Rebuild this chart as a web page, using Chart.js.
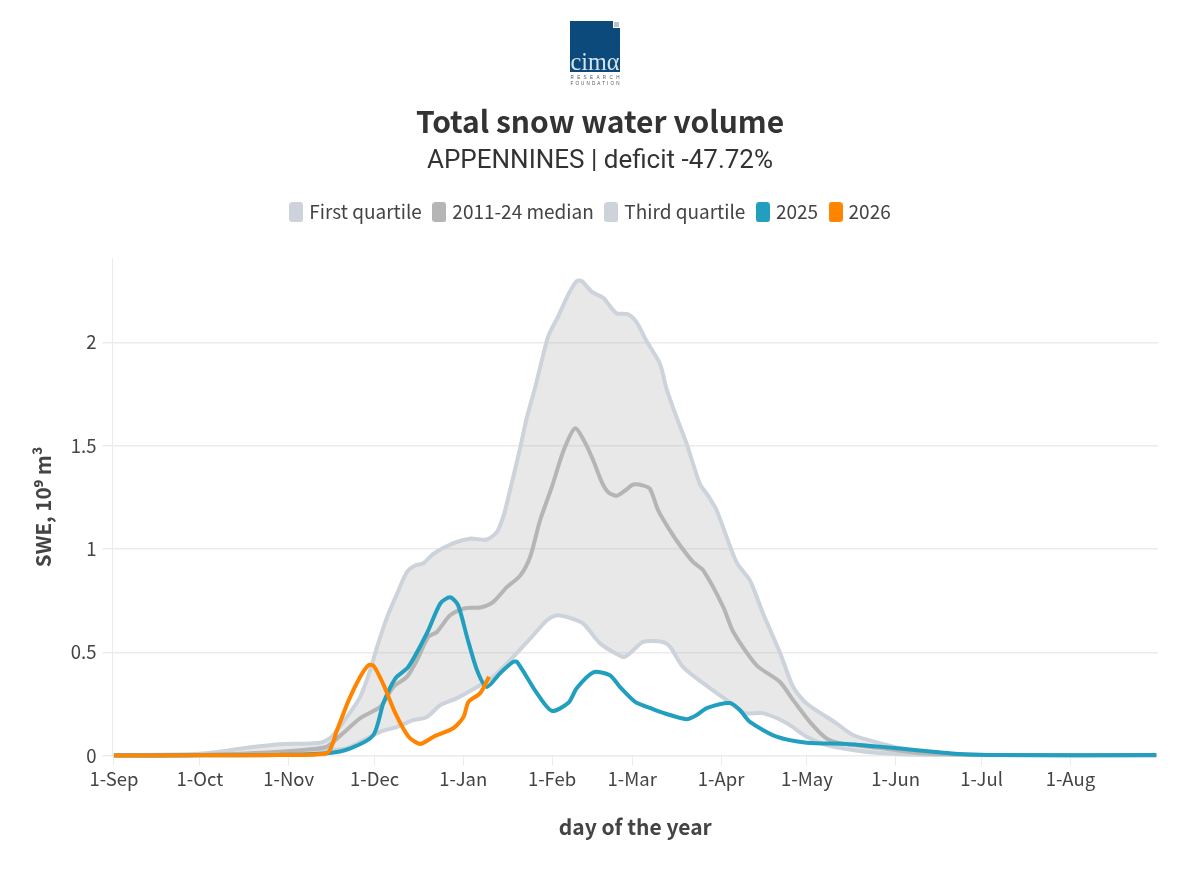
<!DOCTYPE html>
<html>
<head>
<meta charset="utf-8">
<title>Total snow water volume</title>
<script src="https://cdn.jsdelivr.net/npm/chart.js@4"></script>
<style>
  html, body { margin: 0; padding: 0; background: #fff; }
  #wrap { position: relative; width: 1200px; height: 869px; overflow: hidden; }
  #logo { position: absolute; left: 565px; top: 16px; }
  canvas { display: block; }
</style>
</head>
<body>
<div id="wrap">
  <canvas id="sweChart" width="1200" height="869"></canvas>
  <svg id="logo" width="60" height="74" viewBox="0 0 60 74">
    <rect x="5" y="5" width="50" height="51" fill="#0b4a7a"/>
    <rect x="48" y="5" width="7" height="7" fill="#fff"/>
    <rect x="49" y="6" width="5" height="5" fill="#bcc3c9"/>
    <text x="5.5" y="54" textLength="49" lengthAdjust="spacingAndGlyphs" font-family="Liberation Serif" font-size="26" fill="#d5e3ec">cimα</text>
    <text x="5.5" y="63" textLength="49" font-family="Liberation Sans" font-size="4.6" fill="#555">RESEARCH</text>
    <text x="5.5" y="69" textLength="49" font-family="Liberation Sans" font-size="4.6" fill="#555">FOUNDATION</text>
  </svg>
</div>
<script>
const tickDays = [0, 30, 61, 91, 122, 153, 181, 212, 242, 273, 303, 334];
const tickLabels = ['1-Sep', '1-Oct', '1-Nov', '1-Dec', '1-Jan', '1-Feb', '1-Mar', '1-Apr', '1-May', '1-Jun', '1-Jul', '1-Aug'];

// day index counted from 1-Sep, values in 10^9 m3
const q1Days = [0, 30, 58, 75.6, 81.4, 89.5, 93, 98.9, 104.5, 109.3, 114, 119.8, 126.8, 132.4, 139.4, 146.4, 151.2, 154.7, 158.1, 163.8, 169.8, 177.8, 180.2, 184.8, 191.7, 194.2, 198.7, 205.7, 214, 220.3, 226.6, 234.9, 241.9, 248.8, 258, 267.4, 281, 309, 364];
const q1Values = [0.001, 0.002, 0.007, 0.027, 0.036, 0.091, 0.115, 0.139, 0.171, 0.187, 0.244, 0.278, 0.332, 0.381, 0.477, 0.582, 0.655, 0.679, 0.671, 0.64, 0.543, 0.477, 0.495, 0.55, 0.55, 0.526, 0.429, 0.35, 0.268, 0.205, 0.205, 0.157, 0.091, 0.051, 0.027, 0.012, 0.004, 0.001, 0.001];

const medianDays = [0, 30, 58, 69.7, 74.4, 80.1, 86, 93, 97.6, 102.3, 105.8, 109.8, 112.8, 117.4, 122.7, 127.9, 132.4, 137.2, 141.9, 145.3, 148.8, 152.9, 157, 161, 164.5, 167.4, 170.4, 172.7, 175.6, 178.5, 181.4, 184.9, 187.2, 190.1, 194.2, 197.7, 202.3, 205.8, 212.8, 216.3, 224.4, 232.5, 237.2, 243, 248.8, 253.5, 267.4, 281, 309, 364];
const medianValues = [0.001, 0.002, 0.018, 0.031, 0.043, 0.109, 0.181, 0.236, 0.332, 0.381, 0.461, 0.574, 0.598, 0.679, 0.713, 0.717, 0.743, 0.815, 0.872, 0.96, 1.138, 1.299, 1.476, 1.584, 1.516, 1.428, 1.323, 1.274, 1.258, 1.283, 1.312, 1.307, 1.291, 1.186, 1.089, 1.017, 0.936, 0.896, 0.719, 0.598, 0.437, 0.357, 0.268, 0.163, 0.083, 0.06, 0.036, 0.012, 0.002, 0.001];

const q3Days = [0, 30, 48, 58, 72, 76, 81.4, 86, 89.5, 91.9, 95.4, 98.9, 102.3, 105.2, 108.1, 111.6, 118.6, 124.4, 130.2, 133.7, 135.5, 136.6, 141.9, 144.2, 147.1, 149.4, 151.7, 155.2, 158.7, 161.6, 163.4, 166.9, 170.9, 173.2, 175.6, 179.6, 182.6, 186, 190.7, 193, 196.5, 200, 204.6, 207.5, 210.5, 217.4, 222.1, 226.7, 232.5, 237.2, 241.9, 252.3, 258.1, 267.4, 278, 292, 309, 364];
const q3Values = [0.002, 0.008, 0.04, 0.055, 0.062, 0.09, 0.187, 0.284, 0.413, 0.526, 0.67, 0.784, 0.888, 0.92, 0.931, 0.977, 1.028, 1.05, 1.046, 1.081, 1.138, 1.186, 1.492, 1.637, 1.782, 1.911, 2.031, 2.128, 2.233, 2.297, 2.297, 2.245, 2.216, 2.176, 2.141, 2.136, 2.096, 2.007, 1.896, 1.774, 1.637, 1.51, 1.316, 1.258, 1.186, 0.936, 0.848, 0.687, 0.501, 0.332, 0.252, 0.156, 0.099, 0.06, 0.027, 0.01, 0.002, 0.001];

const days2025 = [0, 30, 58, 74.4, 82.6, 90.6, 94.1, 98.3, 102.8, 109.3, 114, 117.4, 120.2, 123.3, 126.8, 130.2, 134.9, 139.4, 140.8, 147.7, 152.9, 158.7, 161.6, 167.4, 173.2, 176.7, 182, 188.2, 194.2, 200, 203.5, 207, 215.1, 218.6, 222.1, 231.4, 241.9, 255.8, 267.4, 281.4, 295.3, 309.3, 364];
const values2025 = [0, 0.001, 0.003, 0.011, 0.035, 0.099, 0.254, 0.374, 0.429, 0.592, 0.737, 0.766, 0.727, 0.574, 0.413, 0.332, 0.399, 0.453, 0.453, 0.302, 0.216, 0.255, 0.326, 0.403, 0.389, 0.332, 0.26, 0.225, 0.196, 0.176, 0.196, 0.229, 0.254, 0.22, 0.163, 0.091, 0.062, 0.056, 0.043, 0.024, 0.007, 0.002, 0.002];

const days2026 = [0, 30, 58, 74.4, 77.9, 82, 86, 88.9, 90.7, 94.2, 98.3, 102.9, 107, 111.6, 118.6, 122.1, 123.8, 127.9, 131];
const values2026 = [0, 0.001, 0.002, 0.011, 0.123, 0.268, 0.381, 0.437, 0.434, 0.341, 0.204, 0.091, 0.056, 0.091, 0.133, 0.187, 0.26, 0.302, 0.381];

const gridColor = '#ebebeb';
const textColor = '#444';
const fontFamily = '"Noto Sans CJK SC", "Noto Sans", sans-serif';

function toPoints(days, values) {
  return days.map((d, i) => ({ x: d, y: values[i] }));
}

// tall rounded legend swatch
function swatch(color) {
  const c = document.createElement('canvas');
  c.width = 14;
  c.height = 20;
  const g = c.getContext('2d');
  g.fillStyle = color;
  g.beginPath();
  g.roundRect(0, 0, 14, 20, 3);
  g.fill();
  return c;
}

function lineSet(label, days, values, color, order) {
  return {
    label: label,
    data: toPoints(days, values),
    borderColor: color,
    backgroundColor: color,
    borderWidth: 4,
    pointRadius: 0,
    pointStyle: swatch(color),
    tension: 0.25,
    clip: false,
    order: order
  };
}

const q1Set = lineSet('First quartile', q1Days, q1Values, '#ccd3da', 5);
q1Set.fill = { target: 2, above: 'rgba(180,180,180,0.3)', below: 'rgba(180,180,180,0.3)' };

// legend is a little left of the page centre in the original
const legendShift = {
  id: 'legendShift',
  afterLayout(chart) {
    chart.legend.left -= 8.25;
    chart.legend.right -= 8.25;
  }
};

new Chart(document.getElementById('sweChart'), {
  type: 'line',
  data: {
    datasets: [
      q1Set,
      lineSet('2011-24 median', medianDays, medianValues, '#b5b5b5', 3),
      lineSet('Third quartile', q3Days, q3Values, '#ccd3da', 4),
      lineSet('2025', days2025, values2025, '#229fbe', 2),
      lineSet('2026', days2026, values2026, '#ff8500', 1)
    ]
  },
  plugins: [legendShift],
  options: {
    responsive: false,
    animation: false,
    layout: { padding: { top: 104, bottom: 25, left: 0, right: 0 } },
    plugins: {
      filler: { drawTime: 'beforeDatasetsDraw' },
      tooltip: { enabled: false },
      title: {
        display: true,
        text: 'Total snow water volume',
        color: '#333',
        font: { family: fontFamily, size: 30, weight: 'bold' },
        padding: { top: 0, bottom: 0 }
      },
      subtitle: {
        display: true,
        text: 'APPENNINES | deficit -47.72%',
        color: '#333',
        font: { family: '"Roboto", sans-serif', size: 26 },
        padding: { top: 5.5, bottom: 12 }
      },
      legend: {
        display: true,
        labels: {
          usePointStyle: true,
          pointStyleWidth: 7,
          padding: 14,
          color: textColor,
          font: { family: fontFamily, size: 19 },
          sort: (a, b) => a.datasetIndex - b.datasetIndex
        }
      }
    },
    scales: {
      x: {
        type: 'linear',
        min: -0.5,
        max: 364.6,
        border: { display: false },
        grid: { drawOnChartArea: false, color: gridColor, tickLength: 10 },
        afterBuildTicks(scale) {
          scale.ticks = tickDays.map(d => ({ value: d }));
        },
        ticks: {
          color: textColor,
          padding: 2,
          maxRotation: 0,
          autoSkip: false,
          font: { family: fontFamily, size: 18.5 },
          callback: value => tickLabels[tickDays.indexOf(value)]
        },
        title: {
          display: true,
          text: 'day of the year',
          color: textColor,
          font: { family: fontFamily, size: 21, weight: 'bold' }
        },
        afterFit(scale) { scale.height = 88.5; }
      },
      y: {
        min: 0,
        max: 2.408,
        border: { display: true, color: gridColor },
        grid: { color: gridColor, lineWidth: 1.4, tickLength: 10 },
        ticks: {
          stepSize: 0.5,
          includeBounds: false,
          color: textColor,
          padding: 6,
          font: { family: fontFamily, size: 18.5 },
          callback: value => String(value)
        },
        title: {
          display: true,
          text: 'SWE, 10⁹ m³',
          color: textColor,
          font: { family: fontFamily, size: 20.5, weight: 'bold' },
          padding: { top: 31, bottom: 0 }
        },
        afterFit(scale) { scale.width = 112.5; }
      },
      // empty axes, they only keep the margins right of and above the plot
      rightMargin: {
        position: 'right',
        display: true,
        grid: { display: false },
        border: { display: false },
        ticks: { display: false },
        afterFit(scale) { scale.width = 42; }
      },
      topMargin: {
        axis: 'x',
        position: 'top',
        display: true,
        grid: { display: false },
        border: { display: false },
        ticks: { display: false },
        afterFit(scale) { scale.height = 26.5; }
      }
    }
  }
});
</script>
</body>
</html>
